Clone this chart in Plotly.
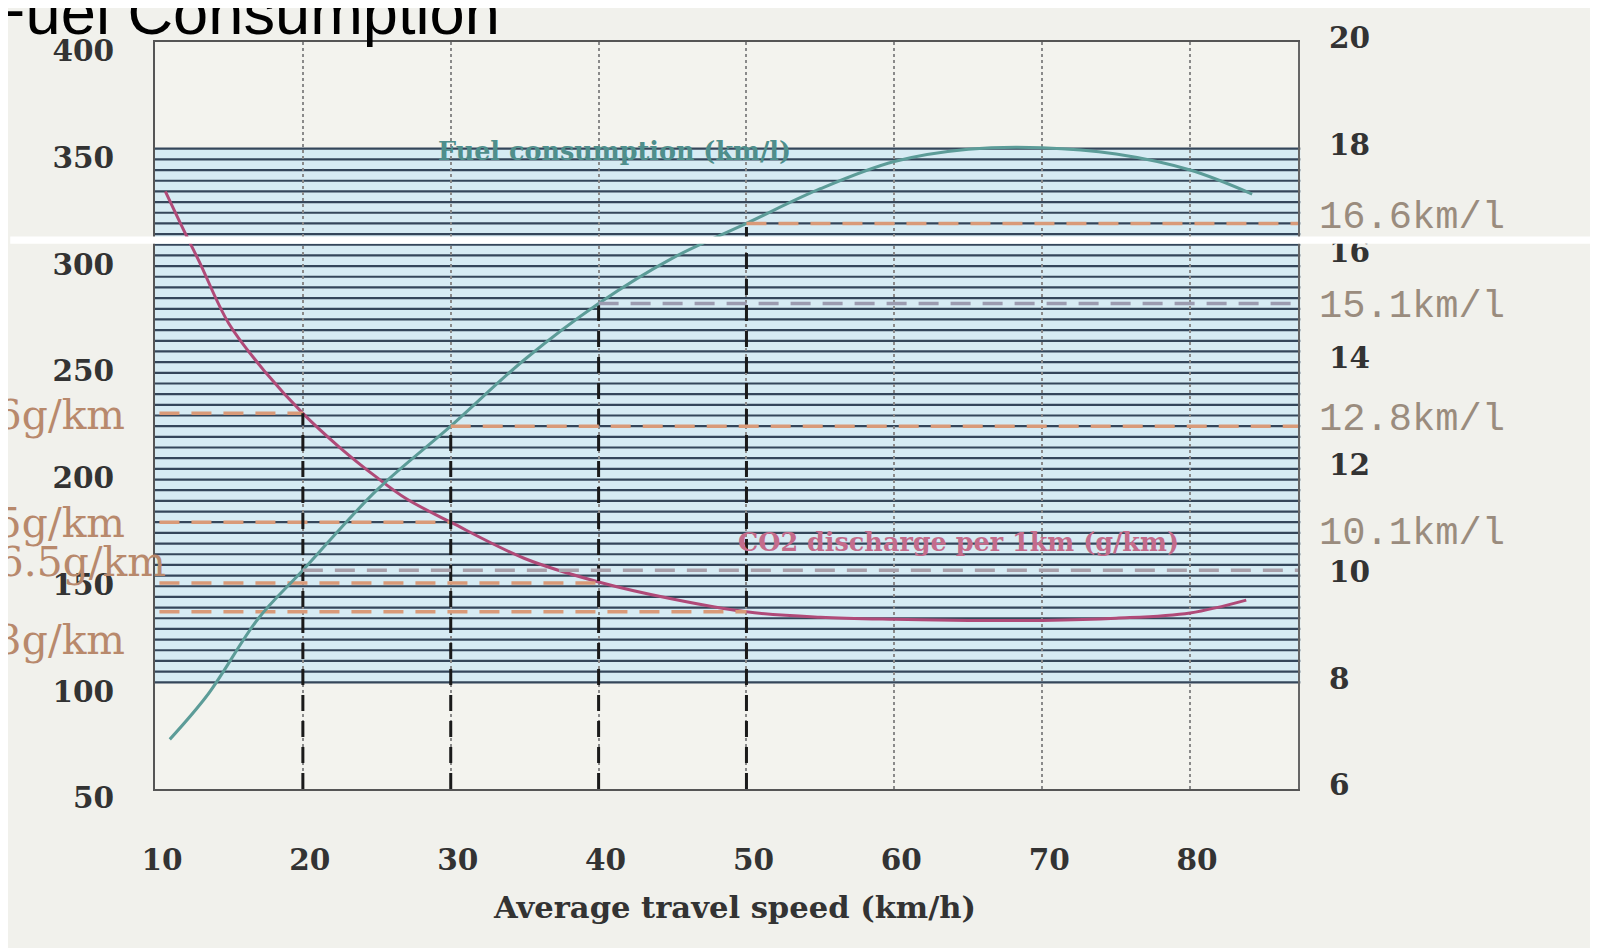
import plotly.graph_objects as go

# ---------------- data ----------------
speed_fuel = [11, 13.6, 17, 20, 25, 30, 35, 40, 45, 50, 55, 60, 65, 70, 75, 80, 84.2]
fuel_kml = [6.93, 7.78, 9.2, 10.1, 11.6, 12.8, 14.05, 15.1, 15.95, 16.6, 17.25, 17.76, 17.99, 18.02, 17.9, 17.6, 17.15]

speed_co2 = [10.7, 12, 13, 15, 17.5, 20, 22.5, 25, 27, 30, 35, 40, 45, 50, 55, 60, 65, 70, 75, 80, 83.8]
co2_gkm = [330, 311, 297, 268, 245, 226, 210, 196, 186, 175, 158, 147, 139, 133, 130.5, 129.5, 129, 129, 130, 132.5, 138.5]

ref_speeds = [20, 30, 40, 50]
ref_co2 = [226, 175, 146.5, 133]
ref_fuel = [10.1, 12.8, 15.1, 16.6]

x_ticks = [10, 20, 30, 40, 50, 60, 70, 80]
left_ticks = [50, 100, 150, 200, 250, 300, 350, 400]
right_ticks = [6, 8, 10, 12, 14, 16, 18, 20]
band_levels = list(range(100, 355, 5))

# ---------------- geometry helpers ----------------
W, H = 1598, 948
S = 0.981
def conv(p):
    # screen pixel -> figure pixel
    return (p - 8) / S
L, R, T, B = conv(152), conv(1273), conv(37), conv(774)
def px(x):
    return (conv(x) - L) / (R - L)
def py(y):
    return (B - conv(y)) / (B - T)
def fs(v):
    return v / S

XMAX = 87.3
serif = "DejaVu Serif"

fig = go.Figure()

# curves
fig.add_trace(go.Scatter(x=speed_fuel, y=fuel_kml, yaxis="y2", mode="lines",
                         line=dict(color="#5c9c98", width=3, shape="spline"),
                         name="Fuel consumption", showlegend=False))
fig.add_trace(go.Scatter(x=speed_co2, y=co2_gkm, mode="lines",
                         line=dict(color="#b04a78", width=3, shape="spline"),
                         name="CO2 discharge", showlegend=False))

# reference dashed lines
for s, c in zip(ref_speeds, ref_co2):
    fig.add_trace(go.Scatter(x=[10.3, s], y=[c, c], mode="lines", showlegend=False,
                             line=dict(color="#d99a78", width=3.5, dash="20px,12px")))
fuel_cols = ["#a8a0aa", "#d99a78", "#9c9cb0", "#d99a78"]
for s, f, col in zip(ref_speeds, ref_fuel, fuel_cols):
    fig.add_trace(go.Scatter(x=[s, XMAX], y=[f, f], yaxis="y2", mode="lines", showlegend=False,
                             line=dict(color=col, width=3.5, dash="20px,12px")))
for s, c, f in zip(ref_speeds, ref_co2, ref_fuel):
    top = max(c, 50 + (f - 6) * 25)
    fig.add_trace(go.Scatter(x=[s, s], y=[50, top], mode="lines", showlegend=False,
                             line=dict(color="#1a1a1a", width=3, dash="16px,10px")))

shapes = []
# blue band
shapes.append(dict(type="rect", xref="paper", yref="y", x0=0, x1=1.002,
                   y0=band_levels[0], y1=band_levels[-1], fillcolor="#d6ebf3",
                   line=dict(width=0), layer="below"))
for v in band_levels:
    shapes.append(dict(type="line", xref="paper", yref="y", x0=0, x1=1.002, y0=v, y1=v,
                       line=dict(color="#34465a", width=2.2), layer="between"))
# white scan gap
shapes.append(dict(type="rect", xref="paper", yref="paper", x0=px(10), x1=px(1568),
                   y0=py(236), y1=py(229), fillcolor="white", line=dict(width=0), layer="above"))

annotations = []
def ann(text, x, y, xanchor, size, color, family=serif, weight="normal"):
    annotations.append(dict(text=text, xref="paper", yref="paper", x=px(x), y=py(y),
                            xanchor=xanchor, yanchor="middle", showarrow=False,
                            font=dict(family=family, size=fs(size), color=color, weight=weight)))

ann("Fuel Consumption", -15, 7, "left", 62, "black", family="Liberation Sans")
ann("Fuel consumption (km/l)", 603, 145, "center", 25, "#4f8f8c", weight="bold")
ann("CO2 discharge per 1km (g/km)", 940, 530, "center", 25, "#c46c8c", weight="bold")
ann("Average travel speed (km/h)", 720, 890, "center", 30, "#333333", weight="bold")

left_label_pos = [(125, 405), (125, 512), (165, 550), (125, 627)]
for c, (lx, ly) in zip(ref_co2, left_label_pos):
    ann(f"{c:g}g/km", lx, ly, "right", 40, "#b8896c")
right_label_y = [522, 410, 298, 211]
for f, ly in zip(ref_fuel, right_label_y):
    ann(f"{f:g}km/l", 1292, ly, "left", 38, "#9a8c7e", family="Liberation Mono")

tickfont = dict(family=serif, size=fs(29), color="#333333", weight="bold")
fig.update_layout(
    width=W, height=H,
    margin=dict(l=L, r=W - R, t=T, b=H - B),
    paper_bgcolor="#f1f1ec", plot_bgcolor="#f3f3ee",
    showlegend=False,
    shapes=shapes, annotations=annotations,
    xaxis=dict(range=[10, XMAX], tickvals=x_ticks, showgrid=True, griddash="dot",
               gridcolor="#8a8a8a", gridwidth=1.5, zeroline=False,
               showline=True, linecolor="#555555", linewidth=2, mirror=True,
               tickfont=tickfont, ticklabelshift=7, ticklabelstandoff=44, ticks=""),
    yaxis=dict(range=[50, 400], tickvals=left_ticks, showgrid=False, zeroline=False,
               showline=True, linecolor="#555555", linewidth=2,
               tickfont=tickfont, ticklabelshift=9, ticklabelstandoff=33, ticks=""),
    yaxis2=dict(range=[6, 20], tickvals=right_ticks, overlaying="y", side="right",
                showgrid=False, zeroline=False, showline=True, linecolor="#666666", linewidth=2,
                tickfont=tickfont, ticklabelshift=-4, ticklabelstandoff=23, ticks=""),
)

fig.write_html("out.html")
